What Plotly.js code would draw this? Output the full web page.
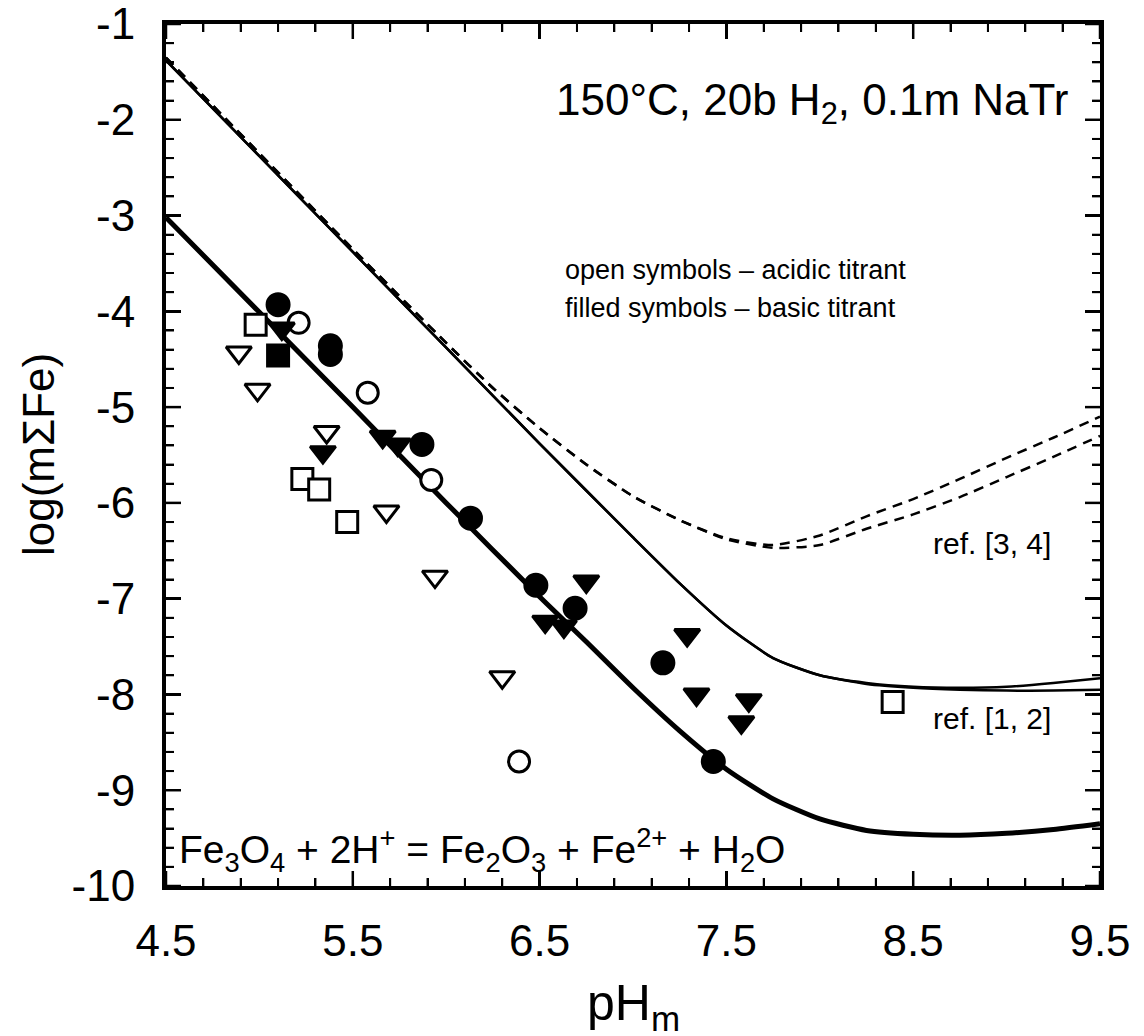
<!DOCTYPE html>
<html>
<head>
<meta charset="utf-8">
<script src="https://cdn.plot.ly/plotly-3.0.1.min.js"></script>
<style>html,body{margin:0;padding:0;background:#fff;}#chart{width:1144px;height:1036px;}</style>
</head>
<body>
<div id="chart"></div>
<script>
// ---- data ----
const xTickVals = [4.5, 5.5, 6.5, 7.5, 8.5, 9.5];
const xTickText = ["4.5", "5.5", "6.5", "7.5", "8.5", "9.5"];
const yTickVals = [-10, -9, -8, -7, -6, -5, -4, -3, -2, -1];
const yTickText = ["-10", "-9", "-8", "-7", "-6", "-5", "-4", "-3", "-2", "-1"];
const minorStep = 0.2;

// this work: Fe3O4 + 2H+ = Fe2O3 + Fe2+ + H2O (thick solid)
const fitX = [4.5, 5.0, 5.5, 6.0, 6.5, 6.75, 7.0, 7.25, 7.5, 7.75, 8.0, 8.25, 8.5, 8.75, 9.0, 9.25, 9.5];
const fitY = [-3.02, -4.01, -5.0, -6.0, -6.98, -7.45, -7.93, -8.38, -8.78, -9.09, -9.3, -9.42, -9.46, -9.47, -9.45, -9.41, -9.35];

// ref. [1, 2] (two thin solid curves)
const ref12X = [4.5, 5.0, 5.5, 6.0, 6.5, 7.0, 7.25, 7.5, 7.75, 8.0, 8.25, 8.5, 8.75, 9.0, 9.25, 9.5];
const ref12aY = [-1.38, -2.38, -3.38, -4.38, -5.38, -6.36, -6.84, -7.28, -7.62, -7.8, -7.88, -7.92, -7.93, -7.92, -7.88, -7.83];
const ref12bY = [-1.38, -2.38, -3.38, -4.38, -5.38, -6.36, -6.84, -7.28, -7.62, -7.8, -7.89, -7.93, -7.95, -7.96, -7.96, -7.95];

// ref. [3, 4] (two dashed curves)
const ref34X = [4.5, 5.0, 5.5, 6.0, 6.25, 6.5, 6.75, 7.0, 7.25, 7.5, 7.75, 8.0, 8.25, 8.5, 8.75, 9.0, 9.25, 9.5];
const ref34aY = [-1.35, -2.35, -3.35, -4.33, -4.8, -5.22, -5.6, -5.93, -6.18, -6.37, -6.44, -6.34, -6.14, -5.96, -5.75, -5.53, -5.32, -5.1];
const ref34bY = [-1.35, -2.35, -3.35, -4.33, -4.8, -5.22, -5.6, -5.93, -6.18, -6.38, -6.47, -6.44, -6.27, -6.12, -5.94, -5.73, -5.52, -5.3];

// measured points
const openCircX = [5.21, 5.58, 5.92, 6.39];
const openCircY = [-4.12, -4.85, -5.76, -8.70];
const fillCircX = [5.10, 5.38, 5.38, 5.87, 6.13, 6.48, 6.69, 7.16, 7.43];
const fillCircY = [-3.93, -4.36, -4.45, -5.39, -6.16, -6.86, -7.10, -7.67, -8.70];
const openSqX = [4.98, 5.23, 5.32, 5.47, 8.39];
const openSqY = [-4.14, -5.75, -5.86, -6.20, -8.08];
const fillSqX = [5.10];
const fillSqY = [-4.46];
const openTriX = [4.89, 4.99, 5.36, 5.68, 5.94, 6.30];
const openTriY = [-4.43, -4.82, -5.26, -6.09, -6.77, -7.82];
const fillTriX = [5.12, 5.34, 5.66, 5.74, 6.53, 6.63, 6.75, 7.29, 7.34, 7.58, 7.62];
const fillTriY = [-4.18, -5.47, -5.31, -5.39, -7.24, -7.29, -6.82, -7.38, -8.00, -8.29, -8.06];

// ---- traces ----
const FONT = 'Arial, Helvetica, sans-serif';
const X_RANGE = [4.5, 9.5];
const Y_RANGE = [-10, -1];
function curve(x, y, w, dash) {
  return {x: x, y: y, type: 'scatter', mode: 'lines', line: {color: '#000', width: w, dash: dash, shape: 'spline', smoothing: 0.6}, hoverinfo: 'skip'};
}
function pts(x, y, sym, filled, size) {
  return {x: x, y: y, type: 'scatter', mode: 'markers',
    marker: {symbol: sym, size: size, color: filled ? '#000' : '#fff', line: {color: '#000', width: 3}}};
}
const traces = [
  curve(ref34X, ref34aY, 2.5, '10px,7px'),
  curve(ref34X, ref34bY, 2.5, '10px,7px'),
  curve(ref12X, ref12aY, 2.5, 'solid'),
  curve(ref12X, ref12bY, 2.5, 'solid'),
  curve(fitX, fitY, 5, 'solid'),
  pts(openSqX, openSqY, 'square', false, 21),
  pts(fillSqX, fillSqY, 'square', true, 21),
  pts(openTriX, openTriY, 'triangle-down', false, 22),
  pts(openCircX, openCircY, 'circle', false, 21),
  pts(fillTriX, fillTriY, 'triangle-down', true, 22),
  pts(fillCircX, fillCircY, 'circle', true, 22)
];

function makeAxis(range, vals, txt, t0, standoff) {
  return {
    range: range, autorange: false, automargin: false,
    showline: true, linecolor: '#000', linewidth: 4, mirror: 'allticks',
    ticks: 'inside', ticklen: 15, tickwidth: 2.5, tickcolor: '#000',
    showgrid: false, zeroline: false,
    tickmode: 'array', tickvals: vals, ticktext: txt,
    ticklabelstandoff: standoff, ticklabeloverflow: 'allow',
    tickfont: {family: FONT, size: 44, color: '#000'},
    minor: {tickmode: 'linear', tick0: t0, dtick: minorStep, ticks: 'inside', ticklen: 8, tickwidth: 2, tickcolor: '#000'}
  };
}

// tick marks on all four sides, placed through the axes' own scales
function tickPositions(range, majors) {
  const out = [];
  const n = Math.round((range[1] - range[0]) / minorStep);
  for (let i = 0; i <= n; i++) {
    const v = +(range[0] + i * minorStep).toFixed(6);
    const isMajor = majors.some(m => Math.abs(m - v) < 1e-6);
    out.push({v: v, major: isMajor});
  }
  return out;
}
const tickShapes = [];
tickPositions(X_RANGE, xTickVals).forEach(t => {
  const len = t.major ? 15 : 8, w = t.major ? 2.5 : 2;
  [[0, len], [1, -len]].forEach(([anchor, l]) => tickShapes.push({
    type: 'line', layer: 'above', xref: 'x', yref: 'paper', ysizemode: 'pixel', yanchor: anchor,
    x0: t.v, x1: t.v, y0: 0, y1: l, line: {color: '#000', width: w}
  }));
});
tickPositions(Y_RANGE, yTickVals).forEach(t => {
  const len = t.major ? 15 : 8, w = t.major ? 2.5 : 2;
  [[0, len], [1, -len]].forEach(([anchor, l]) => tickShapes.push({
    type: 'line', layer: 'above', xref: 'paper', yref: 'y', xsizemode: 'pixel', xanchor: anchor,
    x0: 0, x1: l, y0: t.v, y1: t.v, line: {color: '#000', width: w}
  }));
});

// position helpers: data value -> paper fraction
const px = v => (v - X_RANGE[0]) / (X_RANGE[1] - X_RANGE[0]);
const py = v => (v - Y_RANGE[0]) / (Y_RANGE[1] - Y_RANGE[0]);
function note(x, y, text, size, xanchor, extra) {
  return Object.assign({xref: 'paper', yref: 'paper', x: x, y: y, xanchor: xanchor, yanchor: 'middle',
    showarrow: false, text: text, font: {family: FONT, size: size, color: '#000'}}, extra || {});
}

const layout = {
  width: 1144, height: 1036,
  margin: {l: 166, r: 44, t: 24, b: 150},
  paper_bgcolor: '#fff', plot_bgcolor: '#fff',
  showlegend: false,
  font: {family: FONT, color: '#000'},
  xaxis: makeAxis(X_RANGE, xTickVals, xTickText, 4.5, 13),
  yaxis: makeAxis(Y_RANGE, yTickVals, yTickText, -10, 18),
  shapes: tickShapes,
  annotations: [
    note(px(9.34), py(-1.83), '150°C, 20b H<sub>2</sub>, 0.1m NaTr', 44, 'right'),
    note(px(6.625), py(-3.57), 'open symbols – acidic titrant', 27, 'left'),
    note(px(6.625), py(-3.96), 'filled symbols – basic titrant', 27, 'left'),
    note(px(9.25), py(-6.42), 'ref. [3, 4]', 30, 'right'),
    note(px(9.25), py(-8.25), 'ref. [1, 2]', 30, 'right'),
    note(px(4.56), py(-9.62), 'Fe<sub>3</sub>O<sub>4</sub> + 2H<sup>+</sup> = Fe<sub>2</sub>O<sub>3</sub> + Fe<sup>2+</sup> + H<sub>2</sub>O', 39, 'left'),
    // axis titles
    note(0.5, -0.14, 'pH<sub>m</sub>', 50, 'center'),
    note(-0.137, 0.5, 'log(mΣFe)', 44, 'center', {textangle: -90})
  ]
};

Plotly.newPlot('chart', traces, layout, {staticPlot: true, displayModeBar: false});
</script>
</body>
</html>
